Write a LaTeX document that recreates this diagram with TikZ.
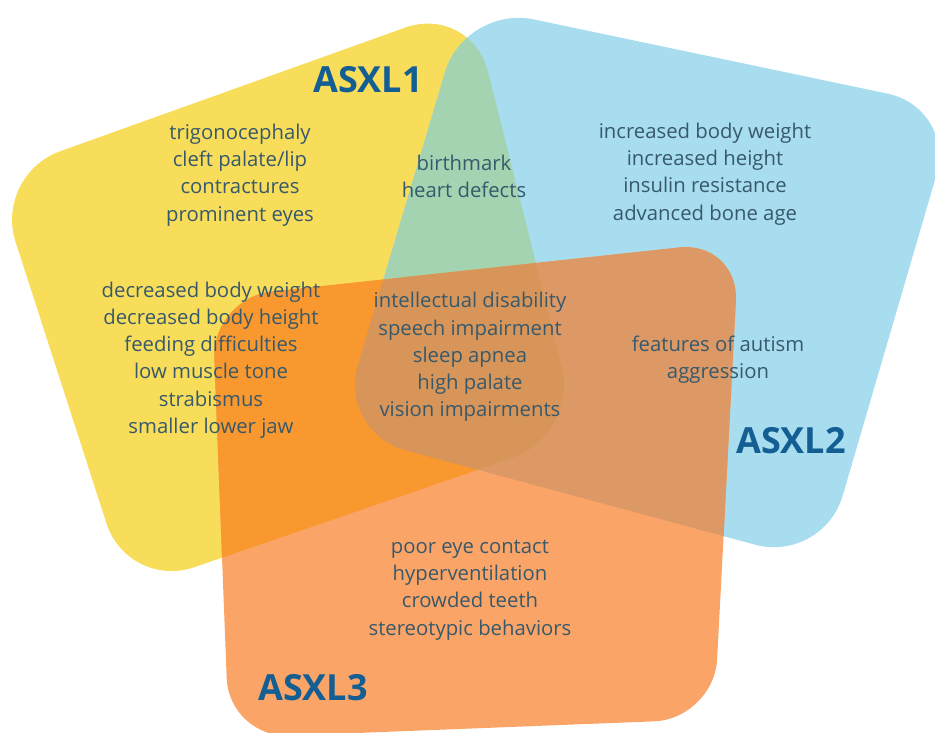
\documentclass[tikz,border=0pt]{standalone}
\usepackage{fontspec}
\setmainfont{Open Sans}

\definecolor{asxlyellow}{HTML}{F8DD5B}
\definecolor{asxlblue}{HTML}{A7DDEE}
\definecolor{asxlorange}{HTML}{FBA468}
\definecolor{yellowblue}{HTML}{A4D3B1}
\definecolor{yelloworange}{HTML}{F8982E}
\definecolor{blueorange}{HTML}{DC9966}
\definecolor{allthree}{HTML}{D7955A}
\definecolor{textgray}{HTML}{37596B}
\definecolor{geneblue}{HTML}{135E93}

\begin{document}
\begin{tikzpicture}[x=1pt,y=-1pt]
    \tikzstyle{symptoms} = [align=center,text=textgray,inner sep=0pt,font=\fontsize{20.3}{27.2}\selectfont]
    \tikzstyle{gene} = [text=geneblue,inner sep=0pt,font=\fontsize{36}{36}\selectfont\bfseries]
    \useasboundingbox (0,0) rectangle (935,733);
    \clip (0,0) rectangle (935,733);
    % the three sets
    \def\shapeone{(471,4) -- (-6,175) -- (128,590) -- (579,435) -- cycle}
    \def\shapetwo{(465,5) -- (956,108) -- (823,563) -- (338,432) -- cycle}
    \def\shapethree{(212,298) -- (739,241) -- (714,719) -- (229,738) -- cycle}
        \fill[asxlyellow,rounded corners=70] \shapeone;
        \fill[asxlblue,rounded corners=70] \shapetwo;
        \fill[asxlorange,rounded corners=60] \shapethree;
    % overlaps
    \begin{scope}
        \clip[rounded corners=70] \shapetwo;
        \fill[blueorange,rounded corners=60] \shapethree;
    \end{scope}
    \begin{scope}
        \clip[rounded corners=70] \shapeone;
        \fill[yellowblue,rounded corners=70] \shapetwo;
        \fill[yelloworange,rounded corners=60] \shapethree;
        \clip[rounded corners=70] \shapetwo;
        \fill[allthree,rounded corners=60] \shapethree;
    \end{scope}
    % labels
        \node[gene] (asxl1) at (368,80) {ASXL1};
        \node[gene] (asxl2) at (791,441) {ASXL2};
        \node[gene] (asxl3) at (313,688) {ASXL3};
        \node[symptoms] (only1a) at (240,175) {trigonocephaly\\cleft palate/lip\\contractures\\prominent eyes};
        \node[symptoms] (only1b) at (211,360) {decreased body weight\\decreased body height\\feeding difficulties\\low muscle tone\\strabismus\\smaller lower jaw};
        \node[symptoms] (both12) at (464,176) {birthmark\\heart defects};
        \node[symptoms] (only2) at (705,174) {increased body weight\\increased height\\insulin resistance\\advanced bone age};
        \node[symptoms] (all) at (470,357) {intellectual disability\\speech impairment\\sleep apnea\\high palate\\vision impairments};
        \node[symptoms] (both23) at (718,360) {features of autism\\aggression};
        \node[symptoms] (only3) at (470,590) {poor eye contact\\hyperventilation\\crowded teeth\\stereotypic behaviors};
\end{tikzpicture}
\end{document}
